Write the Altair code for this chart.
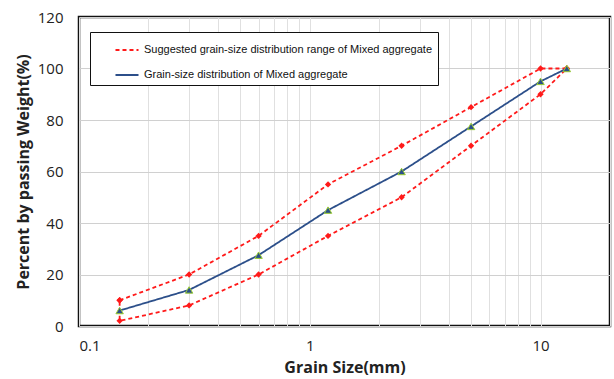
import altair as alt
import pandas as pd

sizes = [0.15, 0.3, 0.6, 1.2, 2.5, 5, 10, 13]
upper = [10, 20, 35, 55, 70, 85, 100, 100]
lower = [2, 8, 20, 35, 50, 70, 90, 100]
mixed = [6, 14, 27.5, 45, 60, 77.5, 95, 100]

S1 = "Suggested grain-size distribution range of Mixed aggregate"
S2 = "Grain-size distribution of Mixed aggregate"

# closed envelope path: upper forward, lower backward, then close
env_x = sizes + sizes[::-1] + [sizes[0]]
env_y = upper + lower[::-1] + [upper[0]]
env = pd.DataFrame({"size": env_x, "pct": env_y, "series": S1,
                    "ord": list(range(len(env_x)))})
mix = pd.DataFrame({"size": sizes, "pct": mixed, "series": S2,
                    "ord": list(range(len(sizes)))})
lines = pd.concat([env, mix], ignore_index=True)

grid_vals = [0.1, 0.2, 0.3, 0.4, 0.5, 0.6, 0.7, 0.8, 0.9,
             1, 2, 3, 4, 5, 6, 7, 8, 9, 10, 20]

xscale = alt.Scale(type="log", domain=[0.1, 20], nice=False)
yscale = alt.Scale(domain=[0, 120], nice=False)

x = alt.X("size:Q", scale=xscale, title="Grain Size(mm)",
          axis=alt.Axis(values=grid_vals,
                        labelExpr="(datum.value==0.1||datum.value==1||datum.value==10) ? format(datum.value,'~g') : ''",
                        grid=True, gridColor="#e0e0e0", gridWidth=1,
                        ticks=False, domain=False, labelPadding=12,
                        labelFontSize=15, labelColor="#222",
                        titleFontSize=16, titleFontWeight="bold", titlePadding=6,
                        titleColor="#222",
                        labelFont="Open Sans", titleFont="Open Sans"))
y = alt.Y("pct:Q", scale=yscale, title="Percent by passing Weight(%)",
          axis=alt.Axis(values=[0, 20, 40, 60, 80, 100, 120],
                        grid=True, gridColor="#d0d0d0", gridWidth=1,
                        ticks=False, domain=False, labelPadding=16,
                        labelFontSize=15, labelColor="#222",
                        titleFontSize=16, titleFontWeight="bold", titlePadding=6,
                        titleColor="#222",
                        labelFont="Open Sans", titleFont="Open Sans"))

color = alt.Color("series:N",
                  scale=alt.Scale(domain=[S1, S2], range=["#ff1a1a", "#2c4f8a"]),
                  legend=alt.Legend(title=None, orient="none", legendX=11, legendY=15,
                                    strokeColor="#111",
                                    fillColor="white",
                                    padding=5, rowPadding=7, symbolType="stroke",
                                    symbolStrokeWidth=2, symbolSize=530,
                                    symbolOffset=19, labelOffset=4,
                                    labelFontSize=11, labelFont="Liberation Sans",
                                    labelColor="#111",
                                    labelLimit=400, offset=0))
dash = alt.StrokeDash("series:N",
                      scale=alt.Scale(domain=[S1, S2], range=[[4, 3], [1, 0]]),
                      legend=None)

line_layer = alt.Chart(lines).mark_line(strokeWidth=1.8).encode(
    x=x, y=y, color=color, strokeDash=dash, order="ord:Q", detail="series:N")

red_pts = alt.Chart(env).mark_point(shape="diamond", filled=True, size=40,
                                    color="#ff1a1a", opacity=1).encode(
    x="size:Q", y="pct:Q")
blue_pts = alt.Chart(mix).mark_point(shape="triangle-up", filled=True, size=55,
                                     fill="#2c4f8a", stroke="#9acd32",
                                     strokeWidth=1, opacity=1).encode(
    x="size:Q", y="pct:Q")

chart = alt.layer(line_layer, red_pts, blue_pts).properties(
    width=531, height=309,
    autosize=alt.AutoSizeParams(type="none"),
    padding={"left": 79, "top": 17, "right": 4, "bottom": 53},
).configure_view(stroke="#111", strokeWidth=2.5)

chart.save("out.html", embed_options={"renderer": "svg", "actions": False})
